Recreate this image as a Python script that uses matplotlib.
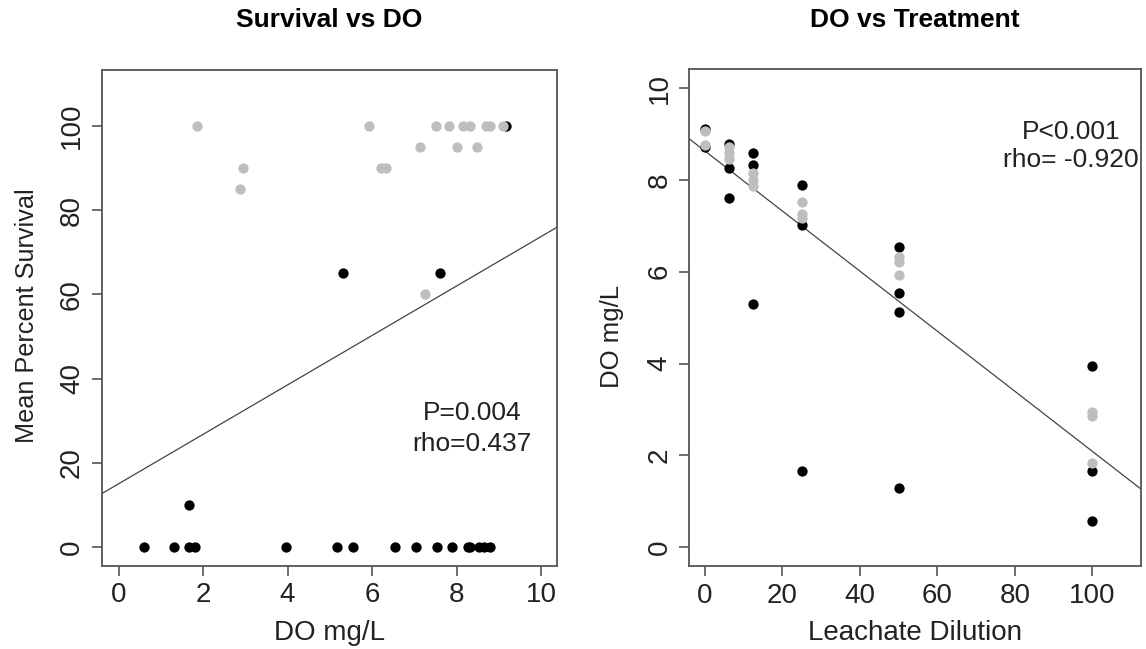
import matplotlib
matplotlib.use("Agg")
import matplotlib.pyplot as plt
import numpy as np

plt.rcParams['font.family'] = ['Liberation Sans', 'DejaVu Sans']

# ---- Left panel data: Survival vs DO ----
left_gray_do = [1.85, 5.93, 7.52, 7.81, 8.16, 8.32, 8.70, 8.79, 9.11,
                7.14, 8.00, 8.48, 2.95, 6.21, 6.34, 2.87, 7.25]
left_gray_surv = [100, 100, 100, 100, 100, 100, 100, 100, 100,
                  95, 95, 95, 90, 90, 90, 85, 60]
left_black_do = [9.17, 5.32, 7.60, 1.67,
                 0.60, 1.32, 1.67, 1.82, 3.96, 5.16, 5.54, 6.54, 7.04,
                 7.53, 7.89, 8.26, 8.32, 8.54, 8.65, 8.79]
left_black_surv = [100, 65, 65, 10,
                   0, 0, 0, 0, 0, 0, 0, 0, 0,
                   0, 0, 0, 0, 0, 0, 0]
left_fit = (15.05, 5.87)  # intercept, slope
left_xticks = [0, 2, 4, 6, 8, 10]
left_yticks = [0, 20, 40, 60, 80, 100]

# ---- Right panel data: DO vs Treatment ----
right_black_dil = [0, 0, 6.25, 6.25, 6.25, 12.5, 12.5, 12.5,
                   25, 25, 25, 50, 50, 50, 50, 100, 100, 100]
right_black_do = [9.12, 8.71, 8.78, 8.26, 7.60, 8.58, 8.33, 5.30,
                  7.89, 7.01, 1.67, 6.54, 5.53, 5.13, 1.30, 3.94, 1.67, 0.58]
right_gray_dil = [0, 0, 6.25, 6.25, 6.25, 12.5, 12.5, 12.5,
                  25, 25, 25, 50, 50, 50, 100, 100, 100]
right_gray_do = [9.07, 8.76, 8.72, 8.58, 8.45, 8.16, 8.00, 7.86,
                 7.51, 7.26, 7.17, 6.33, 6.21, 5.93, 2.95, 2.86, 1.83]
right_fit = (8.63, -0.0654)
right_xticks = [0, 20, 40, 60, 80, 100]
right_yticks = [0, 2, 4, 6, 8, 10]

W, H = 1146, 649
fig = plt.figure(figsize=(W / 100, H / 100), dpi=100)

def px_axes(x0, y0, x1, y1):
    return fig.add_axes([x0 / W, 1 - y1 / H, (x1 - x0) / W, (y1 - y0) / H])

GRAY = '#BEBEBE'
FRAME = '#555555'
FS = 20
MS = 55

def style(ax):
    for s in ax.spines.values():
        s.set_color(FRAME)
        s.set_linewidth(1.3)
    ax.tick_params(direction='out', length=7, width=1.2, color=FRAME,
                   labelsize=FS, labelcolor='#222222', pad=5)
    for lab in ax.get_yticklabels():
        lab.set_rotation(90)
        lab.set_va('center')

# Left axes
ax1 = px_axes(101.7, 70, 556.7, 565.7)
ax1.scatter(left_black_do, left_black_surv, s=MS, color='black', lw=0, zorder=3)
ax1.scatter(left_gray_do, left_gray_surv, s=MS, color=GRAY, lw=0, zorder=4)
ax1.axline((0, left_fit[0]), slope=left_fit[1], color='#444444', lw=0.9, zorder=2)
ax1.set_xlim(-0.40, 10.37)
ax1.set_ylim(-4.4, 113.3)
ax1.set_xticks(left_xticks)
ax1.set_yticks(left_yticks)
style(ax1)
ax1.text(8.37, 31.8, 'P=0.004', ha='center', va='center', fontsize=19, color='#222222')
ax1.text(8.37, 24.6, 'rho=0.437', ha='center', va='center', fontsize=19, color='#222222')

# Right axes
ax2 = px_axes(689.3, 69.3, 1141, 566)
ax2.scatter(right_black_dil, right_black_do, s=MS, color='black', lw=0, zorder=3)
ax2.scatter(right_gray_dil, right_gray_do, s=MS, color=GRAY, lw=0, zorder=4)
ax2.axline((0, right_fit[0]), slope=right_fit[1], color='#444444', lw=0.9, zorder=2)
ax2.set_xlim(-4.05, 112.6)
ax2.set_ylim(-0.41, 10.41)
ax2.set_xticks(right_xticks)
ax2.set_yticks(right_yticks)
style(ax2)
ax2.text(94.5, 9.05, 'P<0.001', ha='center', va='center', fontsize=19, color='#222222')
ax2.text(94.5, 8.44, 'rho= -0.920', ha='center', va='center', fontsize=19, color='#222222')

# Titles and axis labels
fig.text(329 / W, 1 - 20 / H, 'Survival vs DO', ha='center', va='center',
         fontsize=19, fontweight='bold')
fig.text(915 / W, 1 - 20 / H, 'DO vs Treatment', ha='center', va='center',
         fontsize=19, fontweight='bold')
fig.text(329 / W, 1 - 633 / H, 'DO mg/L', ha='center', va='center', fontsize=FS, color='#222222')
fig.text(915 / W, 1 - 633 / H, 'Leachate Dilution', ha='center', va='center', fontsize=FS, color='#222222')
fig.text(27 / W, 1 - 316 / H, 'Mean Percent Survival', ha='center', va='center',
         rotation=90, fontsize=18.2, color='#222222')
fig.text(612 / W, 1 - 336 / H, 'DO mg/L', ha='center', va='center',
         rotation=90, fontsize=18.5, color='#222222')

fig.savefig('out.png', dpi=100)
